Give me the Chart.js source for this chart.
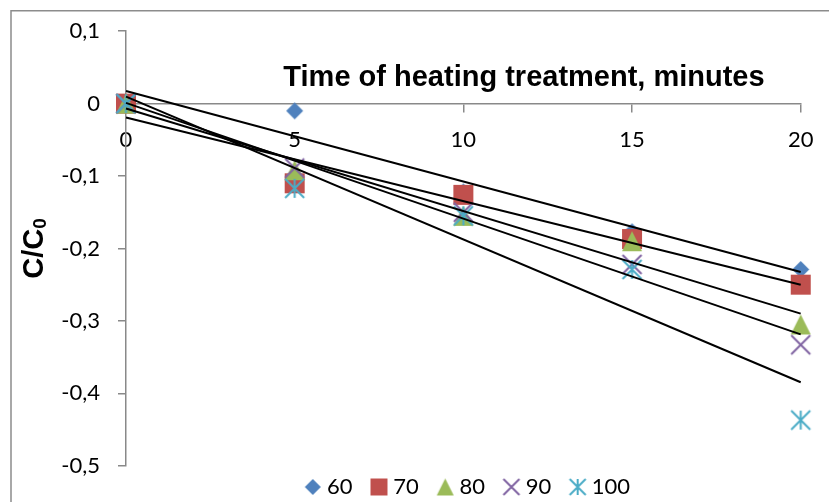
<!DOCTYPE html>
<html>
<head>
<meta charset="utf-8">
<script src="https://cdn.jsdelivr.net/npm/chart.js@4.4.1/dist/chart.umd.min.js"></script>
<style>
  html, body { margin: 0; padding: 0; background: #ffffff; }
  #wrap { width: 829px; height: 502px; position: relative; }
</style>
</head>
<body>
<div id="wrap"><canvas id="chart"></canvas></div>
<script>
// Heating time, minutes
const times = [0, 5, 10, 15, 20];
// Legend names (heating temperature)
const seriesNames = ['60', '70', '80', '90', '100'];
// C/C0 values per temperature
const c60  = [0, -0.010, -0.122, -0.177, -0.229];
const c70  = [0, -0.110, -0.126, -0.187, -0.250];
const c80  = [0, -0.092, -0.155, -0.190, -0.305];
const c90  = [0, -0.089, -0.150, -0.222, -0.333];
const c100 = [0, -0.117, -0.155, -0.229, -0.437];
// Axis ticks
const xTicks = [0, 5, 10, 15, 20];
const yTicks = [0.1, 0, -0.1, -0.2, -0.3, -0.4, -0.5];

const seriesValues = [c60, c70, c80, c90, c100];

// Styling
const colors = ['#4F81BD', '#C0504D', '#9BBB59', '#8064A2', '#4BACC6'];
const shapes = ['diamond', 'square', 'triangle', 'cross', 'star'];
const plotSizes = [17, 20, 20, 19, 19];
const legendSizes = [16, 17, 17, 16, 16];
const axisGray = '#898989';
const tickFont = { family: 'Lato', size: 22 };
const titleFont = 'bold 29px "Liberation Sans", Arial, sans-serif';

// Marker glyphs drawn on small canvases; offsetX shifts the glyph inside its canvas
function makeIcon(shape, size, color, offsetX) {
  const off = offsetX || 0;
  const ext = size + 4;
  const w = Math.ceil(ext + 2 * Math.abs(off));
  const h = Math.ceil(ext);
  const cv = document.createElement('canvas');
  cv.width = w; cv.height = h;
  const g = cv.getContext('2d');
  const cx = w / 2 + off, cy = h / 2, r = size / 2;
  g.fillStyle = color; g.strokeStyle = color; g.lineWidth = 2;
  g.beginPath();
  if (shape === 'diamond') {
    g.moveTo(cx, cy - r); g.lineTo(cx + r, cy); g.lineTo(cx, cy + r); g.lineTo(cx - r, cy);
    g.closePath(); g.fill();
  } else if (shape === 'square') {
    g.fillRect(cx - r, cy - r, size, size);
  } else if (shape === 'triangle') {
    g.moveTo(cx, cy - r); g.lineTo(cx + r, cy + r); g.lineTo(cx - r, cy + r);
    g.closePath(); g.fill();
  } else {
    g.moveTo(cx - r, cy - r); g.lineTo(cx + r, cy + r);
    g.moveTo(cx + r, cy - r); g.lineTo(cx - r, cy + r);
    if (shape === 'star') { g.moveTo(cx, cy - r); g.lineTo(cx, cy + r); }
    g.stroke();
  }
  return cv;
}

const plotIcons = shapes.map((s, i) => makeIcon(s, plotSizes[i], colors[i], 0));
const legendIcons = shapes.map((s, i) => makeIcon(s, legendSizes[i], colors[i], 6.5));

// Least-squares linear trend of a series over the heating times
function linearFit(xs, ys) {
  const n = xs.length;
  const mx = xs.reduce((a, b) => a + b, 0) / n;
  const my = ys.reduce((a, b) => a + b, 0) / n;
  let sxy = 0, sxx = 0;
  for (let i = 0; i < n; i++) { sxy += (xs[i] - mx) * (ys[i] - my); sxx += (xs[i] - mx) ** 2; }
  const slope = sxy / sxx;
  return { slope, intercept: my - slope * mx };
}

const pointSets = seriesValues.map((vals, i) => ({
  label: seriesNames[i],
  data: times.map((t, k) => ({ x: t, y: vals[k] })),
  showLine: false,
  pointStyle: plotIcons[i],
  pointRadius: 9,
  pointHoverRadius: 9,
  backgroundColor: colors[i],
  borderColor: colors[i],
  order: 10 - i,
  clip: false
}));

const trendSets = seriesValues.map((vals, i) => {
  const f = linearFit(times, vals);
  const t0 = times[0], t1 = times[times.length - 1];
  return {
    label: 'trend ' + seriesNames[i],
    data: [{ x: t0, y: f.intercept + f.slope * t0 }, { x: t1, y: f.intercept + f.slope * t1 }],
    showLine: true,
    borderColor: '#000000',
    borderWidth: 2,
    pointRadius: 0,
    pointHoverRadius: 0,
    tension: 0,
    order: 0,
    clip: false,
    isTrend: true
  };
});

const fmt = v => String(Math.round(v * 10) / 10).replace('.', ',');

// Frame, axis titles
const decorations = {
  id: 'decorations',
  beforeDraw(chart) {
    const ctx = chart.ctx;
    ctx.save();
    ctx.strokeStyle = '#8c8c8c';
    ctx.lineWidth = 1.5;
    ctx.strokeRect(11, 10.75, 900, 600);
    ctx.restore();
  },
  afterDraw(chart) {
    const ctx = chart.ctx;
    const area = chart.chartArea;
    ctx.save();
    ctx.fillStyle = '#000000';
    // horizontal axis title, above the zero line
    ctx.font = titleFont;
    ctx.textAlign = 'center';
    ctx.textBaseline = 'alphabetic';
    ctx.fillText('Time of heating treatment, minutes', 524, 85.5);
    // vertical axis title C/C0 with subscript
    const main = 'C/C', sub = '0';
    ctx.font = titleFont;
    const wMain = ctx.measureText(main).width;
    ctx.font = 'bold 19px "Liberation Sans", Arial, sans-serif';
    const wSub = ctx.measureText(sub).width;
    const total = wMain + wSub;
    ctx.translate(43, (area.top + area.bottom) / 2);
    ctx.rotate(-Math.PI / 2);
    ctx.textAlign = 'left';
    ctx.font = titleFont;
    ctx.fillText(main, -total / 2, 0);
    ctx.font = 'bold 19px "Liberation Sans", Arial, sans-serif';
    ctx.fillText(sub, -total / 2 + wMain, 3);
    ctx.restore();
  }
};

new Chart(document.getElementById('chart'), {
  type: 'scatter',
  data: { datasets: trendSets.concat(pointSets) },
  options: {
    responsive: true,
    maintainAspectRatio: false,
    animation: false,
    events: [],
    layout: { padding: { top: 29, right: 28.3, bottom: -6, left: 0 } },
    scales: {
      x: {
        type: 'linear',
        position: { y: 0 },
        min: 0, max: 20,
        afterBuildTicks: s => { s.ticks = xTicks.map(v => ({ value: v })); },
        ticks: { font: tickFont, color: '#000000', padding: 15, callback: v => fmt(v), maxRotation: 0 },
        grid: { drawOnChartArea: false, drawTicks: true, tickLength: 8, color: axisGray, lineWidth: 1.5 },
        border: { color: axisGray, width: 1.5 }
      },
      y: {
        type: 'linear',
        position: 'left',
        min: -0.5, max: 0.1,
        afterBuildTicks: s => { s.ticks = yTicks.slice().reverse().map(v => ({ value: v })); },
        afterFit: s => { s.width = 126; },
        ticks: { font: tickFont, color: '#000000', padding: 18, callback: v => fmt(v) },
        grid: { drawOnChartArea: false, drawTicks: true, tickLength: 8, color: axisGray, lineWidth: 1.5 },
        border: { color: axisGray, width: 1.5 }
      }
    },
    plugins: {
      tooltip: { enabled: false },
      title: { display: false },
      legend: {
        display: true,
        position: 'bottom',
        fullSize: false,
        labels: {
          usePointStyle: true,
          boxWidth: 19.4,
          padding: 10.3,
          color: '#000000',
          font: tickFont,
          filter: item => !trendSets[item.datasetIndex] || !trendSets[item.datasetIndex].isTrend ? true : false,
          sort: (a, b) => a.datasetIndex - b.datasetIndex,
          generateLabels: chart => {
            const base = Chart.defaults.plugins.legend.labels.generateLabels(chart);
            return base
              .filter(it => it.datasetIndex >= trendSets.length)
              .map(it => {
                const k = it.datasetIndex - trendSets.length;
                it.pointStyle = legendIcons[k];
                it.fontColor = '#000000';
                return it;
              });
          }
        }
      }
    }
  },
  plugins: [decorations]
});
</script>
</body>
</html>
